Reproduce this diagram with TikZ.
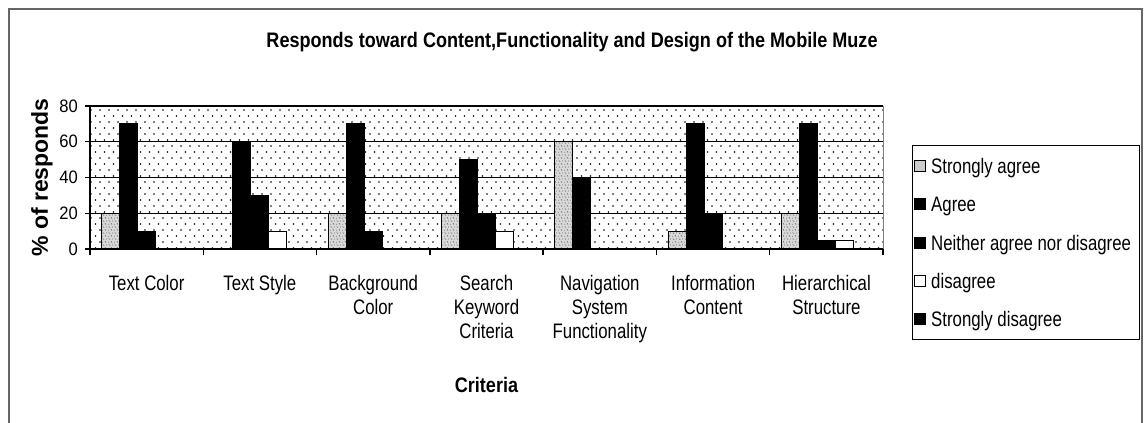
\documentclass[tikz,border=0pt]{standalone}
\usepackage{fontspec}
\setmainfont{Liberation Sans}
\newfontfamily\nf[FakeStretch=0.8]{Liberation Sans}
\newfontfamily\hf[FakeStretch=0.86]{Liberation Sans}
\newfontfamily\lf[FakeStretch=0.8]{Liberation Sans}
\newfontfamily\tf[FakeStretch=0.92]{Liberation Sans}
\usetikzlibrary{patterns}
\pgfdeclarepatternformonly{sparsedots}{\pgfqpoint{-1pt}{-1pt}}{\pgfqpoint{10pt}{13pt}}{\pgfqpoint{9pt}{12pt}}{%
  \pgfpathcircle{\pgfqpoint{1pt}{1pt}}{0.85pt}%
  \pgfpathcircle{\pgfqpoint{5.5pt}{7pt}}{0.85pt}%
  \pgfusepath{fill}}
\pgfdeclarepatternformonly{grain}{\pgfqpoint{0pt}{0pt}}{\pgfqpoint{6pt}{6pt}}{\pgfqpoint{6pt}{6pt}}{%
  \pgfpathcircle{\pgfqpoint{0.7pt}{0.9pt}}{0.45pt}%
  \pgfpathcircle{\pgfqpoint{3.6pt}{1.8pt}}{0.45pt}%
  \pgfpathcircle{\pgfqpoint{2.1pt}{3.9pt}}{0.45pt}%
  \pgfpathcircle{\pgfqpoint{5.0pt}{4.6pt}}{0.45pt}%
  \pgfpathcircle{\pgfqpoint{4.3pt}{0.4pt}}{0.4pt}%
  \pgfpathcircle{\pgfqpoint{1.2pt}{5.4pt}}{0.4pt}%
  \pgfusepath{fill}}
\tikzset{
  frame/.style={draw=black!60, line width=1.4pt},
  grid line/.style={draw=black, line width=1.1pt},
  axis line/.style={draw=black, line width=1.3pt},
  barbox/.style={draw=black, line width=1pt},
  catlabel/.style={font=\nf\fontsize{21}{24}\selectfont, align=center, anchor=north, inner sep=0pt},
  ticklabel/.style={font=\tf\fontsize{18}{20}\selectfont, anchor=east, inner sep=0pt},
  legtext/.style={font=\lf\fontsize{21}{24}\selectfont, anchor=base west, inner sep=0pt},
  legmark/.style={draw=black, line width=0.8pt, minimum width=11pt, minimum height=11pt, inner sep=0pt},
}
\begin{document}
\begin{tikzpicture}[x=1pt, y=-1pt]
\useasboundingbox (0,0) rectangle (1144,423);
% outer chart frame
\draw[frame] (9,423) -- (9,9) -- (1142,9) -- (1142,423);
% title
\node[font=\hf\bfseries\fontsize{21}{24}\selectfont, anchor=base, inner sep=0pt] (title) at (572,47)
  {Responds toward Content,Functionality and Design of the Mobile Muze};
% plot area
\fill[white] (90,106) rectangle (883,249);
\fill[pattern=sparsedots, pattern color=black] (90,106) rectangle (883,249);
\draw[black!50, line width=0.6pt] (883,106) -- (883,249);
\foreach \g in {20,40,60,80} {
  \draw[grid line] (90,249-\g*1.7875) -- (883,249-\g*1.7875);
  \draw[axis line] (85,249-\g*1.7875) -- (90,249-\g*1.7875);
}
% bars
\foreach \vals [count=\i from 0] in {{20,70,10,0,0},{0,60,30,10,0},{20,70,10,0,0},{20,50,20,10,0},{60,40,0,0,0},{10,70,20,0,0},{20,70,5,5,0}} {
  \foreach \v [count=\k from 0] in \vals {
    \ifdim \v pt>0pt
      \pgfmathsetmacro\xl{101.64+\i*113.2857+\k*18}
      \ifcase\k
        \fill[black!15] (\xl,249) rectangle (\xl+18,249-\v*1.7875);
        \fill[pattern=grain, pattern color=black!80] (\xl,249) rectangle (\xl+18,249-\v*1.7875);
        \draw[barbox] (\xl,249) rectangle (\xl+18,249-\v*1.7875);
      \or
        \draw[barbox, fill=black] (\xl,249) rectangle (\xl+18,249-\v*1.7875);
      \or
        \draw[barbox, fill=black] (\xl,249) rectangle (\xl+18,249-\v*1.7875);
      \or
        \draw[barbox, fill=white] (\xl,249) rectangle (\xl+18,249-\v*1.7875);
      \or
        \draw[barbox, fill=black] (\xl,249) rectangle (\xl+18,249-\v*1.7875);
      \fi
    \fi
  }
}
% axes
\draw[axis line] (90,106) -- (90,255);
\draw[axis line] (85,249) -- (883,249);
\foreach \j in {1,...,7} {
  \draw[axis line] (90+\j*113.2857,249) -- (90+\j*113.2857,255);
}
% y tick labels
\foreach \g in {0,20,40,60,80} {
  \node[ticklabel] (yl\g) at (78,249-\g*1.7875) {\g};
}
% y axis title
\node[font=\bfseries\fontsize{23}{26}\selectfont, rotate=90, inner sep=0pt] (ytitle) at (42,177.5) {\% of responds};
% category labels
\node[catlabel] (c1) at (146.6,275) {Text Color};
\node[catlabel] (c2) at (259.9,275) {Text Style};
\node[catlabel] (c3) at (373.2,275) {Background\\Color};
\node[catlabel] (c4) at (486.5,275) {Search\\Keyword\\Criteria};
\node[catlabel] (c5) at (599.8,275) {Navigation\\System\\Functionality};
\node[catlabel] (c6) at (713.1,275) {Information\\Content};
\node[catlabel] (c7) at (826.4,275) {Hierarchical\\Structure};
% x axis title
\node[font=\hf\bfseries\fontsize{21}{24}\selectfont, anchor=base, inner sep=0pt] (xtitle) at (486.5,392) {Criteria};
% legend
\draw[draw=black, line width=1pt, fill=white] (912,145) rectangle (1139,339);
\node[legmark, fill=black!20] (m1) at (920,166) {};
\node[legmark, fill=black] (m2) at (920,204.3) {};
\node[legmark, fill=black] (m3) at (920,242.6) {};
\node[legmark, fill=white] (m4) at (920,281) {};
\node[legmark, fill=black] (m5) at (920,319.3) {};
\node[legtext] (l1) at (931,173.5) {Strongly agree};
\node[legtext] (l2) at (931,211.8) {Agree};
\node[legtext] (l3) at (931,250.1) {Neither agree nor disagree};
\node[legtext] (l4) at (931,288.5) {disagree};
\node[legtext] (l5) at (931,326.8) {Strongly disagree};
\end{tikzpicture}
\end{document}
